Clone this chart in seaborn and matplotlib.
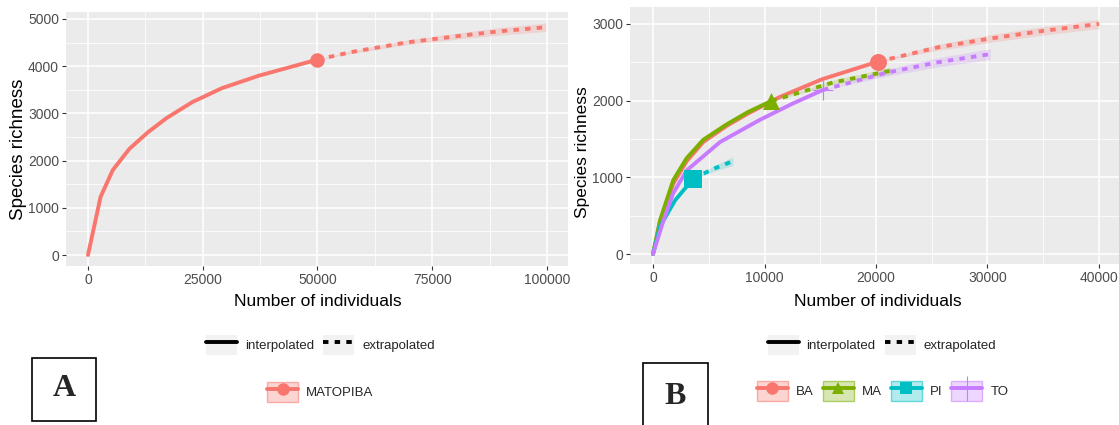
import numpy as np
import pandas as pd
import matplotlib
matplotlib.use("Agg")
import matplotlib.pyplot as plt
import seaborn as sns
from matplotlib.lines import Line2D
from matplotlib.patches import Patch, Rectangle
from matplotlib.ticker import MultipleLocator
from matplotlib.colors import to_rgba

# ---------------- data ----------------
# Panel A : MATOPIBA
a_int_x = [0, 2740, 5400, 9030, 13060, 17100, 22740, 29200, 37260, 45320, 50000]
a_int_y = [0, 1230, 1800, 2250, 2600, 2900, 3240, 3535, 3800, 4015, 4140]
a_ext_x = [50000, 57420, 69520, 81600, 89680, 99760]
a_ext_y = [4140, 4300, 4505, 4650, 4740, 4825]
a_ext_ci = [5, 30, 50, 65, 80, 90]

# Panel B : states
ba_int_x = [0, 630, 1820, 3020, 4510, 6600, 8500, 11400, 15180, 20200]
ba_int_y = [0, 420, 920, 1210, 1460, 1670, 1830, 2050, 2280, 2510]
ba_ext_x = [20200, 25540, 30260, 35000, 40000]
ba_ext_y = [2510, 2695, 2810, 2910, 3000]
ba_ext_ci = [5, 40, 50, 55, 60]

ma_int_x = [0, 630, 1820, 3020, 4510, 6600, 8500, 10620]
ma_int_y = [0, 440, 965, 1250, 1490, 1690, 1850, 1996]
ma_ext_x = [10620, 16120, 21300]
ma_ext_y = [1996, 2236, 2390]
ma_ext_ci = [5, 30, 45]

pi_int_x = [0, 630, 1980, 3610]
pi_int_y = [0, 360, 700, 983]
pi_ext_x = [3610, 5400, 7160]
pi_ext_y = [983, 1110, 1210]
pi_ext_ci = [5, 35, 55]

to_int_x = [0, 900, 1800, 3020, 6010, 9590, 12500, 15250]
to_int_y = [0, 420, 790, 1090, 1460, 1750, 1960, 2140]
to_ext_x = [15250, 20830, 25540, 30260]
to_ext_y = [2140, 2360, 2500, 2607]
to_ext_ci = [5, 45, 60, 70]

sites_b = ["BA", "MA", "PI", "TO"]
colors_b = ["#F8766D", "#7CAE00", "#00BFC4", "#C77CFF"]
markers_b = ["o", "^", "s", "+"]
color_a = "#F8766D"

# ---------------- style ----------------
sns.set_theme(style="darkgrid")
plt.rcParams["font.family"] = ["Liberation Sans", "DejaVu Sans"]
plt.rcParams["axes.facecolor"] = "#EBEBEB"

fam = ["Liberation Sans", "DejaVu Sans"]

fig = plt.figure(figsize=(11.19, 4.25), dpi=100)
W, H = 1119, 425


def px_axes(l, t, r, b):
    return fig.add_axes([l / W, 1 - b / H, (r - l) / W, (b - t) / H])


def style_axes(ax, xmaj, xmin, ymaj, ymin):
    ax.set_facecolor("#EBEBEB")
    for s in ax.spines.values():
        s.set_visible(False)
    ax.xaxis.set_major_locator(MultipleLocator(xmaj))
    ax.xaxis.set_minor_locator(MultipleLocator(xmin))
    ax.yaxis.set_major_locator(MultipleLocator(ymaj))
    ax.yaxis.set_minor_locator(MultipleLocator(ymin))
    ax.grid(which="major", color="white", lw=1.1)
    ax.grid(which="minor", color="white", lw=0.55)
    ax.tick_params(which="major", length=3, width=0.8, color="#333333",
                   labelcolor="#4D4D4D", labelsize=10, pad=2, bottom=True, left=True)
    ax.tick_params(which="minor", length=0)
    ax.set_axisbelow(True)


def make_df(site, ix, iy, ex, ey):
    d1 = pd.DataFrame({"m": ix, "qD": iy, "Site": site, "Method": "interpolated"})
    d2 = pd.DataFrame({"m": ex, "qD": ey, "Site": site, "Method": "extrapolated"})
    return pd.concat([d1, d2], ignore_index=True)


dashes = {"interpolated": "", "extrapolated": (1.4, 1.6)}

# ---------------- Panel A ----------------
axA = px_axes(66, 12, 568, 266)
dfA = make_df("MATOPIBA", a_int_x, a_int_y, a_ext_x, a_ext_y)
axA.fill_between(a_ext_x, np.array(a_ext_y) - np.array(a_ext_ci),
                 np.array(a_ext_y) + np.array(a_ext_ci), color=color_a, alpha=0.2, lw=0)
sns.lineplot(data=dfA, x="m", y="qD", hue="Site", style="Method", palette=[color_a],
             dashes=dashes, linewidth=2.8, legend=False, sort=False, estimator=None,
             errorbar=None, ax=axA)
sns.scatterplot(x=[a_int_x[-1]], y=[a_int_y[-1]], color=color_a, marker="o", s=110,
                linewidth=0, ax=axA, zorder=5)
axA.set_xlim(-4790, 104575)
axA.set_ylim(-233, 5148)
style_axes(axA, 25000, 12500, 1000, 500)
axA.set_xlabel("")
axA.set_ylabel("")
fig.text(318 / W, 1 - 302 / H, "Number of individuals", ha="center", va="center",
         fontsize=12.5, family=fam, color="black")
fig.text(19 / W, 1 - 149 / H, "Species richness", ha="center", va="center",
         rotation=90, fontsize=13.5, family=fam, color="black")

# ---------------- Panel B ----------------
axB = px_axes(630, 7, 1119, 264)
blocks = [
    ("BA", ba_int_x, ba_int_y, ba_ext_x, ba_ext_y, ba_ext_ci),
    ("MA", ma_int_x, ma_int_y, ma_ext_x, ma_ext_y, ma_ext_ci),
    ("PI", pi_int_x, pi_int_y, pi_ext_x, pi_ext_y, pi_ext_ci),
    ("TO", to_int_x, to_int_y, to_ext_x, to_ext_y, to_ext_ci),
]
dfB = pd.concat([make_df(s, ix, iy, ex, ey) for s, ix, iy, ex, ey, _ in blocks],
                ignore_index=True)
for (s, ix, iy, ex, ey, ci), c in zip(blocks, colors_b):
    axB.fill_between(ex, np.array(ey) - np.array(ci), np.array(ey) + np.array(ci),
                     color=c, alpha=0.2, lw=0)
sns.lineplot(data=dfB, x="m", y="qD", hue="Site", style="Method",
             hue_order=sites_b, palette=colors_b, dashes=dashes, linewidth=2.8,
             legend=False, sort=False, estimator=None, errorbar=None, ax=axB)
for (s, ix, iy, ex, ey, ci), c, mk in zip(blocks, colors_b, markers_b):
    if mk == "+":
        axB.plot([ix[-1]], [iy[-1]], marker="+", color=c, markersize=14, mew=0.8, zorder=5)
    else:
        sns.scatterplot(x=[ix[-1]], y=[iy[-1]], color=c, marker=mk, s=150,
                        linewidth=0, ax=axB, zorder=5)
axB.set_xlim(-2063, 41794)
axB.set_ylim(-130, 3221)
style_axes(axB, 10000, 5000, 1000, 500)
axB.set_xlabel("")
axB.set_ylabel("")
fig.text(878 / W, 1 - 302 / H, "Number of individuals", ha="center", va="center",
         fontsize=12.5, family=fam, color="black")
fig.text(582 / W, 1 - 152 / H, "Species richness", ha="center", va="center",
         rotation=90, fontsize=12.5, family=fam, color="black")

# ---------------- Legends ----------------
keybg = Patch(facecolor="#F2F2F2", edgecolor="none")
h_int = (keybg, Line2D([], [], color="black", lw=2.8))
h_ext = (keybg, Line2D([], [], color="black", lw=2.8, ls=(0, (1.4, 1.6))))

leg_kw = dict(frameon=False, handlelength=2.35, handleheight=1.9,
              handletextpad=0.6, columnspacing=0.7, borderpad=0, borderaxespad=0,
              loc="center", prop={"family": fam, "size": 9.5})

fig.legend([h_int, h_ext], ["interpolated", "extrapolated"], ncol=2,
           bbox_to_anchor=(320.5 / W, 1 - 345 / H), **leg_kw)
fig.legend([h_int, h_ext], ["interpolated", "extrapolated"], ncol=2,
           bbox_to_anchor=(882 / W, 1 - 345 / H), **leg_kw)


def site_handle(c, mk):
    p = Patch(facecolor=to_rgba(c, 0.3), edgecolor=to_rgba(c, 0.55), lw=1)
    if mk == "+":
        ln = Line2D([], [], color=c, lw=2.8, marker="+", markersize=18, mew=0.8)
    else:
        ln = Line2D([], [], color=c, lw=2.8, marker=mk, markersize=9, mew=0)
    return (p, ln)


fig.legend([site_handle(color_a, "o")], ["MATOPIBA"], ncol=1,
           bbox_to_anchor=(320.5 / W, 1 - 392 / H), **leg_kw)
fig.legend([site_handle(c, m) for c, m in zip(colors_b, markers_b)], sites_b, ncol=4,
           bbox_to_anchor=(882.5 / W, 1 - 391 / H), **leg_kw)

# ---------------- Panel letters ----------------
fig.add_artist(Rectangle((32 / W, 1 - 421 / H), 64 / W, 63 / H, transform=fig.transFigure,
                         fill=False, edgecolor="black", lw=1.2))
fig.text(64 / W, 1 - 389 / H, "A", ha="center", va="center", fontsize=23,
         fontweight="bold", family=["Liberation Serif", "DejaVu Serif"])
fig.add_artist(Rectangle((643 / W, 1 - 430 / H), 65 / W, 67 / H, transform=fig.transFigure,
                         fill=False, edgecolor="black", lw=1.2))
fig.text(675.5 / W, 1 - 396 / H, "B", ha="center", va="center", fontsize=23,
         fontweight="bold", family=["Liberation Serif", "DejaVu Serif"])

fig.savefig("out.png", dpi=100, facecolor="white")
